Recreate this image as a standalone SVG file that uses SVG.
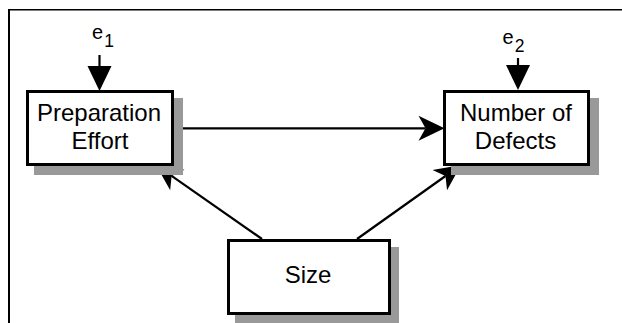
<svg xmlns="http://www.w3.org/2000/svg" width="622" height="323" viewBox="0 0 622 323">
<style>
.box{fill:#fff;stroke:#000;stroke-width:3}
.shadow{fill:#999;stroke:none}
.lbl{font-family:"Liberation Sans",Arial,sans-serif;font-size:24px;fill:#000;text-anchor:middle}
.err{font-family:"Liberation Sans",Arial,sans-serif;font-size:20px;fill:#000}
.conn{stroke:#000;stroke-width:2.2;fill:none}
</style>
<defs>
<marker id="notch" viewBox="-28 -14 29 28" markerWidth="29" markerHeight="28" refX="-19" refY="0" orient="auto" markerUnits="userSpaceOnUse">
<path d="M0,0 L-26,-12.5 L-19,0 L-26,12.5 Z" fill="#000"/>
</marker>
<marker id="flat" viewBox="-28 -14 29 28" markerWidth="29" markerHeight="28" refX="-24" refY="0" orient="auto" markerUnits="userSpaceOnUse">
<path d="M0,0 L-25,-12 L-25,12 Z" fill="#000"/>
</marker>
</defs>
<g id="frame">
<line x1="9" y1="9.75" x2="622" y2="9.75" stroke="#000" stroke-width="1.5"/>
<line x1="9" y1="9" x2="9" y2="323" stroke="#000" stroke-width="2"/>
</g>
<g id="connectors">
<line class="conn" x1="174" y1="128.3" x2="425.5" y2="128.3" stroke-width="2.6" marker-end="url(#notch)"/>
<line class="conn" x1="262" y1="239" x2="171.6" y2="175.9" marker-end="url(#notch)"/>
<line class="conn" x1="357" y1="239" x2="445.5" y2="176" marker-end="url(#notch)"/>
<line class="conn" x1="99.5" y1="55" x2="99.5" y2="67" marker-end="url(#flat)"/>
<line class="conn" x1="518" y1="58" x2="518" y2="66" marker-end="url(#flat)"/>
</g>
<g id="e1">
<text class="err" x="92" y="38.5">e<tspan font-size="17.5" dx="1" dy="8">1</tspan></text>
</g>
<g id="e2">
<text class="err" x="502.5" y="43.5">e<tspan font-size="17.5" dx="1" dy="8.5">2</tspan></text>
</g>
<g id="preparation-effort">
<rect class="shadow" x="34" y="98" width="149" height="77"/>
<rect class="box" x="27.5" y="91.5" width="145" height="73"/>
<text class="lbl" x="99" y="121">Preparation</text>
<text class="lbl" x="100" y="149">Effort</text>
</g>
<g id="number-of-defects">
<rect class="shadow" x="451" y="98" width="148" height="77"/>
<rect class="box" x="444.5" y="91.5" width="144" height="73"/>
<text class="lbl" x="516" y="120.5">Number of</text>
<text class="lbl" x="515.5" y="149">Defects</text>
</g>
<g id="size">
<rect class="shadow" x="235" y="247" width="164" height="76"/>
<rect class="box" x="228.5" y="240.5" width="161" height="73"/>
<text class="lbl" x="308" y="282.5">Size</text>
</g>
</svg>
